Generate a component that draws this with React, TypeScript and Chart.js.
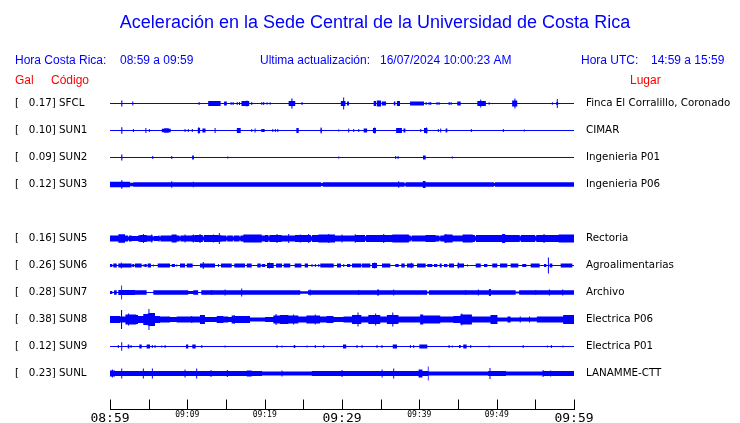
import React, { useEffect, useRef } from 'react';
import { Chart, registerables } from 'chart.js';

Chart.register(...registerables);

// ---------------- header texts ----------------
const TITLE = 'Aceleración en la Sede Central de la Universidad de Costa Rica';
const LOCAL_LABEL = 'Hora Costa Rica:';
const LOCAL_RANGE = '08:59 a 09:59';
const UPDATE_LABEL = 'Ultima actualización:';
const UPDATE_TIME = '16/07/2024 10:00:23 AM';
const UTC_LABEL = 'Hora UTC:';
const UTC_RANGE = '14:59 a 15:59';
const COL_GAL = 'Gal';
const COL_CODE = 'Código';
const COL_PLACE = 'Lugar';

// ---------------- stations (row order, row 4 empty) ----------------
const rowCodes = ['SFCL', 'SUN1', 'SUN2', 'SUN3', '', 'SUN5', 'SUN6', 'SUN7', 'SUN8', 'SUN9', 'SUNL'];
const rowPeaks = [0.17, 0.10, 0.09, 0.12, null, 0.16, 0.26, 0.28, 0.38, 0.12, 0.23];
const rowPlaces = ['Finca El Corralillo, Coronado', 'CIMAR', 'Ingenieria P01', 'Ingenieria P06', '',
  'Rectoria', 'Agroalimentarias', 'Archivo', 'Electrica P06', 'Electrica P01', 'LANAMME-CTT'];
// background noise amplitude of every trace (relative units, 27 units = trace spacing)
const rowNoise = [0.5, 0.5, 0.5, 2.3, 0, 3.2, 0.5, 2.2, 3.0, 0.5, 2.4];

// time axis (minutes after 08:59)
const tickMinutes = [0, 5, 10, 15, 20, 25, 30, 35, 40, 45, 50, 55, 60];
const labelMinutes = [0, 10, 20, 30, 40, 50, 60];
const timeLabels = ['08:59', '09:09', '09:19', '09:29', '09:39', '09:49', '09:59'];
const majorMinutes = [0, 30, 60];

// envelope bursts: [start minute, end minute, amplitude]
const sfclBursts = [[1.45, 1.6, 3], [2.9, 3.0, 2], [11.48, 11.56, 1.5], [12.7, 14.3, 2.5], [14.75, 15.1, 2],
  [15.62, 15.7, 1.5], [15.88, 15.95, 1.5], [16.4, 16.5, 1.5], [16.7, 16.8, 1.5], [17.0, 18.0, 2.5], [17.65, 17.73, 3],
  [18.3, 18.36, 1.5], [19.6, 19.66, 1.5], [19.85, 19.9, 1.5], [20.28, 20.33, 1.2], [20.67, 20.72, 1.2],
  [23.1, 23.95, 2.5], [23.45, 23.6, 5], [24.8, 24.87, 1.5], [29.85, 30.45, 2.5], [30.15, 30.28, 6], [30.65, 30.9, 2],
  [34.1, 34.4, 2.5], [34.5, 35.05, 3], [35.15, 35.7, 2], [36.7, 36.9, 2], [37.1, 37.5, 2.5], [38.8, 40.6, 2],
  [40.84, 40.9, 1.5], [41.23, 41.28, 1.5], [41.45, 41.5, 1.5], [42.26, 42.32, 1.5], [42.52, 42.58, 1.5],
  [43.82, 43.88, 1.5], [44.08, 44.14, 1.5], [44.9, 45.35, 2], [47.5, 48.6, 2.5], [47.88, 48.0, 4], [49.0, 49.05, 1.2],
  [52.0, 52.66, 3], [52.3, 52.42, 5], [57.18, 57.23, 1.2], [57.7, 57.95, 1.5], [57.8, 57.88, 4.5]];

const sun1Bursts = [[1.45, 1.6, 3.3], [3.0, 3.05, 1.5], [4.6, 4.68, 2.5], [5.06, 5.12, 1.5], [6.7, 7.85, 1.8], [7.0, 7.6, 2.3],
  [9.68, 9.73, 1.5], [10.1, 10.15, 1.5], [10.62, 10.67, 1.5], [11.35, 11.65, 2.5], [11.45, 11.52, 3.2], [11.95, 12.35, 2],
  [13.56, 13.62, 2.5], [16.4, 16.9, 2.5], [18.3, 18.36, 1.5], [18.72, 18.8, 2], [19.6, 19.65, 1.5], [19.7, 20.0, 1.5],
  [21.02, 21.07, 1.5], [21.36, 21.41, 1.5], [21.67, 21.72, 1.5], [24.1, 24.4, 2.5], [27.2, 27.4, 2], [27.27, 27.33, 3],
  [29.55, 29.6, 1], [30.82, 30.92, 2], [31.49, 31.54, 1.5], [32.14, 32.19, 1.5], [32.8, 33.25, 2], [34.0, 34.4, 2.5],
  [34.2, 34.27, 3], [37.0, 37.75, 2.5], [37.95, 38.2, 2], [40.15, 40.22, 1.5], [40.6, 41.05, 2.5], [40.9, 40.98, 3],
  [42.43, 42.48, 1.5], [42.74, 42.79, 2], [43.4, 43.62, 2], [46.7, 46.75, 1.5], [50.84, 50.89, 1.5], [53.55, 53.6, 1]];

const sun2Bursts = [[1.45, 1.6, 3], [5.5, 5.55, 1.5], [7.96, 8.01, 1.5], [10.62, 10.85, 2], [15.2, 15.25, 1],
  [29.55, 29.6, 1], [36.9, 36.98, 1.5], [37.2, 37.3, 1.5], [40.47, 40.82, 2], [44.24, 44.29, 1]];

const sun3Bursts = [[0, 2.6, 2.7], [1.45, 1.6, 4.3], [2.6, 3.0, 1.8], [7.95, 8.02, 3.3], [10.75, 10.8, 2.8],
  [27.3, 27.5, 1.5], [37.3, 37.37, 3.3], [38.1, 38.2, 1.2], [40.45, 40.8, 3.5], [49.65, 49.75, 1.5]];

const sun5Bursts = [[0, 1.08, 3], [1.08, 1.94, 4.3], [1.94, 2.8, 3], [2.8, 3.66, 2.5], [3.9, 4.74, 3.5], [4.28, 4.36, 4.5],
  [4.74, 5.6, 3], [5.36, 5.43, 4], [5.6, 6.25, 2.5], [6.25, 7.97, 3], [7.97, 8.62, 4], [8.62, 10.56, 3], [9.67, 9.74, 4],
  [10.74, 10.8, 4], [10.99, 11.85, 3.5], [11.6, 11.68, 4.5], [11.85, 14.01, 3.5], [13.33, 13.4, 4], [14.1, 14.18, 5.5],
  [14.44, 17.24, 3], [17.24, 19.62, 4], [19.62, 20.04, 3], [20.04, 22.2, 3.5], [21.57, 21.63, 4.5], [22.2, 23.92, 3],
  [23.07, 23.14, 4.5], [23.92, 26.94, 3.5], [24.58, 24.64, 4], [25.66, 25.72, 4.5], [26.94, 29.1, 4], [28.25, 28.32, 4.5],
  [29.1, 31.7, 3], [29.97, 30.03, 4], [31.69, 31.75, 4.5], [31.75, 36.5, 3.5], [35.36, 35.43, 4.5], [36.5, 38.65, 4],
  [38.65, 40.8, 3], [40.8, 42.1, 3.5], [42.1, 43.2, 3], [43.2, 44.3, 4], [43.4, 43.46, 4.5], [44.3, 45.6, 3],
  [45.6, 46.9, 4], [46.9, 50.7, 3.5], [50.7, 51.1, 4.5], [51.1, 58.0, 3.5], [56.09, 56.16, 4.5], [58.0, 60, 4],
  [2.35, 2.45, 2], [5.55, 5.65, 2], [6.42, 6.52, 2], [9.0, 9.1, 2], [12.02, 12.12, 2], [15.05, 15.15, 2],
  [15.9, 16.0, 2], [16.76, 16.86, 2], [20.5, 20.6, 2.2], [26.0, 26.1, 2.2], [33.0, 33.1, 2.2], [38.9, 39.0, 2],
  [42.6, 42.7, 2], [47.2, 47.3, 2.2], [53.0, 53.1, 2.2], [55.0, 55.1, 2.2]];

const sun6Bursts = [[0, 0.3, 1.5], [0.43, 0.87, 2], [1.07, 1.42, 2], [1.42, 1.52, 3], [1.52, 2.8, 2], [2.88, 3.14, 1.5],
  [3.23, 4.1, 2], [4.28, 4.33, 1], [4.44, 4.75, 1.5], [4.87, 5.3, 2], [5.58, 5.63, 1], [6.17, 7.76, 2], [7.98, 8.4, 1.5],
  [8.6, 8.65, 1], [9.05, 9.7, 2], [9.92, 10.69, 2], [11.64, 13.58, 2], [12.03, 12.1, 3.5], [14.0, 14.05, 1.5],
  [14.35, 15.74, 2], [16.07, 17.46, 2], [17.68, 18.32, 2], [19.05, 19.49, 2], [19.62, 20.08, 1.5], [20.3, 21.17, 2.5],
  [20.57, 20.63, 3], [21.47, 22.24, 2], [22.46, 23.31, 2], [23.88, 24.74, 2], [25.18, 25.6, 2], [26.1, 26.15, 1.5],
  [26.53, 26.58, 1.5], [26.97, 27.02, 1.5], [27.19, 28.93, 2], [29.35, 29.87, 2], [30.2, 30.25, 1.5], [30.65, 31.07, 1.5],
  [31.29, 32.5, 2], [32.59, 33.66, 2], [33.88, 34.53, 2.5], [34.2, 34.26, 3], [35.17, 36.25, 2], [36.89, 37.33, 1.5],
  [37.67, 38.11, 2], [38.4, 39.27, 2], [38.92, 38.98, 2.7], [39.7, 40.82, 2], [41.03, 41.68, 1.5], [41.9, 42.32, 1.5],
  [42.63, 42.89, 2], [43.19, 43.62, 1.5], [43.84, 44.48, 2], [44.91, 45.78, 2], [45.0, 45.1, 3], [46.2, 46.25, 1],
  [47.29, 47.94, 2], [48.36, 48.79, 1.5], [49.43, 50.08, 2], [50.43, 51.37, 2], [51.81, 52.8, 2], [53.31, 53.83, 1.5],
  [54.4, 55.56, 2], [56.12, 56.42, 1.5], [56.65, 56.73, 8], [56.86, 57.2, 2], [58.28, 59.78, 2]];

const sun7Bursts = [[0, 0.3, 1.5], [0.3, 0.52, 0.5], [0.87, 1.07, 0.5], [1.07, 1.42, 2.5], [1.47, 1.56, 7], [1.56, 3.23, 2.4],
  [4.74, 5.6, 0.5], [10.12, 10.77, 1.5], [11.4, 11.8, 0.5], [13.1, 13.2, 2.5], [14.84, 14.92, 3], [17.0, 17.06, 4],
  [24.6, 25.6, 1.2], [25.85, 25.92, 3], [32.14, 32.2, 2.5], [34.55, 34.8, 3], [36.66, 36.72, 3], [41.0, 41.25, 1.0],
  [45.98, 46.04, 2.5], [47.6, 47.66, 3], [49.0, 49.25, 3.5], [52.45, 52.9, 1.0], [55.03, 55.09, 2.5], [56.75, 56.9, 3],
  [58.48, 58.62, 3]];

const sun8Bursts = [[0, 1.3, 3.4], [1.3, 1.42, 3], [1.42, 1.56, 9.5], [1.56, 2.0, 3], [2.0, 2.85, 5], [2.35, 2.45, 6],
  [2.85, 3.4, 5], [3.4, 3.62, 4.5], [3.62, 4.3, 3.5], [4.3, 4.87, 5.5], [4.87, 4.98, 6], [4.98, 5.1, 10.5], [5.1, 5.82, 6.5],
  [5.82, 6.47, 3.5], [6.47, 7.76, 3], [7.76, 8.62, 2.5], [8.62, 11.64, 3], [10.54, 10.6, 3.5], [11.64, 12.28, 4.5],
  [12.28, 13.8, 2.5], [13.8, 14.66, 3.5], [14.66, 15.3, 3], [15.3, 15.73, 2.5], [15.73, 16.16, 4], [16.14, 16.2, 4.5],
  [16.16, 18.1, 3.5], [18.1, 20.04, 2], [20.04, 21.12, 2.5], [21.12, 21.98, 4], [21.44, 21.5, 5.5], [21.98, 23.06, 4.5],
  [23.06, 24.35, 4], [23.7, 23.8, 5], [24.35, 25.4, 3], [25.4, 27.16, 4], [26.5, 26.58, 5], [27.16, 28.0, 3],
  [28.0, 28.9, 3.5], [28.9, 30.2, 2.5], [30.2, 31.3, 3], [31.3, 32.5, 4.5], [32.04, 32.1, 7], [32.5, 33.4, 3],
  [33.4, 34.95, 4.5], [34.3, 34.4, 6], [34.95, 35.8, 3], [35.8, 37.3, 4.5], [36.53, 36.6, 7], [37.3, 40.1, 3],
  [40.1, 40.5, 5], [40.5, 42.7, 4], [42.7, 44.4, 3], [44.4, 45.3, 3.5], [45.3, 46.8, 5], [45.45, 45.55, 6],
  [46.8, 49.2, 3], [49.2, 50.1, 4.5], [50.1, 51.4, 2], [51.4, 51.8, 3], [51.8, 55.2, 2], [53.0, 53.1, 3], [54.2, 54.3, 3],
  [55.2, 58.6, 3], [58.6, 60, 4.5]];

const sun9Bursts = [[1.05, 1.1, 1.5], [1.47, 1.56, 4.3], [2.29, 2.5, 2], [2.7, 2.75, 1.5], [3.79, 4.1, 2], [4.74, 5.17, 2],
  [5.45, 5.5, 1.5], [5.8, 5.85, 1.5], [6.67, 6.72, 1], [7.1, 7.15, 1.5], [9.83, 10.12, 2], [10.64, 11.08, 2],
  [11.84, 11.9, 1.5], [14.85, 14.9, 1], [21.57, 21.62, 1.5], [22.22, 22.27, 1], [23.75, 23.96, 1.5], [25.45, 25.5, 1],
  [26.52, 26.57, 1.5], [27.62, 27.67, 1.5], [30.13, 30.55, 2], [31.92, 31.97, 1.5], [32.57, 32.62, 1.5], [34.5, 34.55, 1.5],
  [35.15, 35.2, 1.5], [36.56, 37.11, 2], [38.82, 38.87, 1.5], [39.25, 39.3, 1.5], [40.0, 41.03, 2], [43.82, 43.87, 1.5],
  [44.24, 44.29, 1], [45.13, 45.35, 1.5], [45.68, 46.12, 2], [46.62, 46.67, 1.5], [49.0, 49.05, 1], [53.4, 53.45, 1.5],
  [56.53, 56.58, 1], [57.05, 57.1, 1.5], [58.55, 58.6, 1]];

const sunlBursts = [[0, 0.65, 3], [0.28, 0.33, 4], [1.47, 1.56, 5], [4.28, 4.34, 5], [5.45, 5.51, 5], [9.68, 9.73, 4],
  [11.18, 11.24, 5], [13.04, 13.1, 3.5], [15.15, 15.2, 3.5], [17.68, 18.32, 3], [19.65, 26.1, 2], [22.22, 22.27, 3],
  [26.1, 29.8, 2.5], [29.97, 30.03, 3.5], [35.15, 35.22, 4], [36.65, 36.72, 5], [39.9, 40.4, 4], [41.13, 41.2, 7],
  [41.2, 48.9, 2], [49.1, 49.17, 5.5], [49.2, 51.2, 2.5], [51.2, 56.0, 2], [55.97, 56.03, 3.5], [56.96, 57.02, 3],
  [57.2, 60, 2.5]];

const rowBursts = [sfclBursts, sun1Bursts, sun2Bursts, sun3Bursts, null, sun5Bursts, sun6Bursts, sun7Bursts,
  sun8Bursts, sun9Bursts, sunlBursts];

// ---------------- style ----------------
const BLUE = '#0000ff';
const RED = '#ff0000';
const AMP_SCALE = 1 / 27;
const MIN_WIDTH = 0.13;
const SANS = '"Liberation Sans", Arial, sans-serif';

function buildEnvelope(row: number, base: number, bursts: number[][]) {
  const segs = bursts.map(([a, b, amp]) => {
    if (b - a < MIN_WIDTH) {
      const c = (a + b) / 2;
      return [c - MIN_WIDTH / 2, c + MIN_WIDTH / 2, amp];
    }
    return [a, b, amp];
  });
  const cuts = Array.from(new Set([0, 60, ...segs.flatMap((s) => [s[0], s[1]])]))
    .map((t) => Math.min(60, Math.max(0, t)))
    .sort((p, q) => p - q)
    .filter((t, i, arr) => i === 0 || t !== arr[i - 1]);
  const upper: { x: number; y: number }[] = [];
  const lower: { x: number; y: number }[] = [];
  let prev = base;
  for (let i = 0; i < cuts.length; i++) {
    const a = cuts[i];
    let amp = prev;
    if (i < cuts.length - 1) {
      const mid = (a + cuts[i + 1]) / 2;
      amp = base;
      for (const s of segs) if (mid > s[0] && mid < s[1]) amp = s[2];
    }
    prev = amp;
    upper.push({ x: a, y: row - amp * AMP_SCALE });
    lower.push({ x: a, y: row + amp * AMP_SCALE });
  }
  return { upper, lower };
}

const overlayPlugin = {
  id: 'seismoOverlay',
  afterDraw(chart: any) {
    const { ctx, chartArea } = chart;
    const xs = chart.scales.x;
    ctx.save();
    ctx.textBaseline = 'alphabetic';
    ctx.fillStyle = BLUE;
    ctx.font = `18px ${SANS}`;
    ctx.textAlign = 'center';
    ctx.fillText(TITLE, 375, 28);
    ctx.textAlign = 'left';
    ctx.font = `12px ${SANS}`;
    ctx.fillText(LOCAL_LABEL, 15, 64);
    ctx.fillText(LOCAL_RANGE, 120, 64);
    ctx.fillText(UPDATE_LABEL, 260, 64);
    ctx.fillText(UPDATE_TIME, 380, 64);
    ctx.fillText(UTC_LABEL, 581, 64);
    ctx.fillText(UTC_RANGE, 651, 64);
    ctx.fillStyle = RED;
    ctx.fillText(COL_GAL, 15, 84);
    ctx.fillText(COL_CODE, 51, 84);
    ctx.fillText(COL_PLACE, 630, 84);

    // time axis
    const yAxis = chartArea.bottom + 0.5;
    ctx.strokeStyle = '#000';
    ctx.lineWidth = 1;
    ctx.beginPath();
    ctx.moveTo(Math.round(xs.getPixelForValue(0)), yAxis);
    ctx.lineTo(Math.round(xs.getPixelForValue(60)) + 1, yAxis);
    tickMinutes.forEach((m) => {
      const x = Math.round(xs.getPixelForValue(m)) + 0.5;
      ctx.moveTo(x, yAxis - 10);
      ctx.lineTo(x, yAxis + 0.5);
    });
    ctx.stroke();
    ctx.fillStyle = '#000';
    ctx.textAlign = 'center';
    labelMinutes.forEach((m, i) => {
      const major = majorMinutes.includes(m);
      ctx.font = major ? '13px "DejaVu Sans Mono", monospace' : '8px "DejaVu Sans Mono", monospace';
      ctx.fillText(timeLabels[i], xs.getPixelForValue(m), major ? 422 : 417);
    });
    ctx.restore();
  },
};

const rowValues = rowCodes.map((_, i) => i);

export default function App() {
  const ref = useRef<HTMLCanvasElement>(null);
  useEffect(() => {
    const datasets: any[] = [];
    rowBursts.forEach((bursts, row) => {
      if (!bursts) return;
      const { upper, lower } = buildEnvelope(row, rowNoise[row], bursts);
      datasets.push({
        label: rowCodes[row], data: upper, fill: '+1', backgroundColor: BLUE, borderWidth: 0,
        pointRadius: 0, pointHitRadius: 0, stepped: true, yAxisID: 'y',
      });
      datasets.push({
        label: rowCodes[row] + '-', data: lower, fill: false, backgroundColor: BLUE, borderWidth: 0,
        pointRadius: 0, pointHitRadius: 0, stepped: true, yAxisID: 'y',
      });
    });
    const yRange = { min: -0.5, max: -0.5 + 319 / 27 };
    const noEdgePadding = (s: any) => { s.paddingTop = 0; s.paddingBottom = 0; };
    const chart = new Chart(ref.current as HTMLCanvasElement, {
      type: 'line',
      data: { datasets },
      options: {
        animation: false,
        responsive: false,
        devicePixelRatio: 1,
        events: [],
        layout: { padding: { left: 15, right: 0, top: 90, bottom: 14 } },
        plugins: { legend: { display: false }, tooltip: { enabled: false }, title: { display: false } },
        scales: {
          x: { type: 'linear', min: 0, max: 60, display: false },
          y: {
            type: 'linear', position: 'left', reverse: true, ...yRange,
            grid: { display: false, drawTicks: false }, border: { display: false },
            afterBuildTicks: (s: any) => { s.ticks = rowValues.map((v) => ({ value: v })); },
            afterFit: (s: any) => { s.width = 95; noEdgePadding(s); },
            ticks: {
              autoSkip: false, crossAlign: 'far', padding: 0, color: '#000',
              font: { family: 'DejaVu Sans', size: 10.3 },
              callback: (v: any) => {
                const i = Math.round(Number(v));
                return rowCodes[i] ? `[   ${(rowPeaks[i] as number).toFixed(2)}] ${rowCodes[i]}` : '';
              },
            },
          },
          y2: {
            type: 'linear', position: 'right', reverse: true, ...yRange,
            grid: { display: false, drawTicks: false }, border: { display: false },
            afterBuildTicks: (s: any) => { s.ticks = rowValues.map((v) => ({ value: v })); },
            afterFit: (s: any) => { s.width = 166; noEdgePadding(s); },
            ticks: {
              autoSkip: false, padding: 12, color: '#000',
              font: { family: 'DejaVu Sans', size: 10.3 },
              callback: (v: any) => rowPlaces[Math.round(Number(v))] || '',
            },
          },
        },
      } as any,
      plugins: [overlayPlugin],
    });
    return () => chart.destroy();
  }, []);
  return (
    <div style={{ position: 'absolute', left: 0, top: 0, width: 740, height: 423, background: '#fff' }}>
      <canvas ref={ref} width={740} height={423} style={{ display: 'block' }} />
    </div>
  );
}
